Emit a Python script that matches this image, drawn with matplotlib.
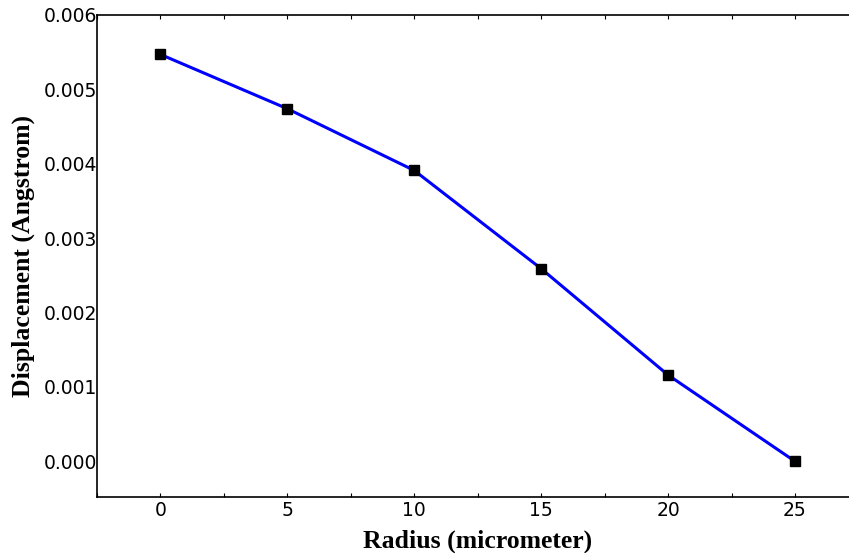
import matplotlib
matplotlib.use("Agg")
import matplotlib.pyplot as plt
from matplotlib.ticker import MultipleLocator

radius = [0, 5, 10, 15, 20, 25]
displacement = [0.00547, 0.00474, 0.00391, 0.00259, 0.00116, 0.0]

x_ticks = [0, 5, 10, 15, 20, 25]
y_ticks = [0.000, 0.001, 0.002, 0.003, 0.004, 0.005, 0.006]
y_ticklabels = ["0.000", "0.001", "0.002", "0.003", "0.004", "0.005", "0.006"]

fig = plt.figure(figsize=(8.49, 5.53), dpi=100)
ax = fig.add_axes([97/849, 56/553, 761.4/849, 482/553])

ax.plot(radius, displacement, color="#0000ff", linewidth=2.2, zorder=2)
ax.plot(radius, displacement, linestyle="none", marker="s", markersize=7.5,
        color="black", zorder=3)

ax.set_xlim(-2.5, 27.5)
ax.set_ylim(-0.00048, 0.006)
ax.set_xticks(x_ticks)
ax.set_xticklabels([str(v) for v in x_ticks])
ax.xaxis.set_minor_locator(MultipleLocator(2.5))
ax.set_yticks(y_ticks)
ax.set_yticklabels(y_ticklabels)

for lab in ax.get_xticklabels() + ax.get_yticklabels():
    lab.set_fontfamily("DejaVu Sans")
    lab.set_fontsize(13.5)

ax.tick_params(axis="x", which="both", direction="in", length=3, width=0.8,
               top=True, pad=3)
ax.tick_params(axis="y", which="both", direction="in", length=0, pad=0)

for s in ["left", "bottom", "top", "right"]:
    ax.spines[s].set_linewidth(1.2)

ax.set_xlabel("Radius (micrometer)", fontfamily="Liberation Serif",
              fontweight="bold", fontsize=18.5, labelpad=7)
ax.set_ylabel("Displacement (Angstrom)", fontfamily="Liberation Serif",
              fontweight="bold", fontsize=18.5, labelpad=6)

fig.savefig("out.png", dpi=100)
